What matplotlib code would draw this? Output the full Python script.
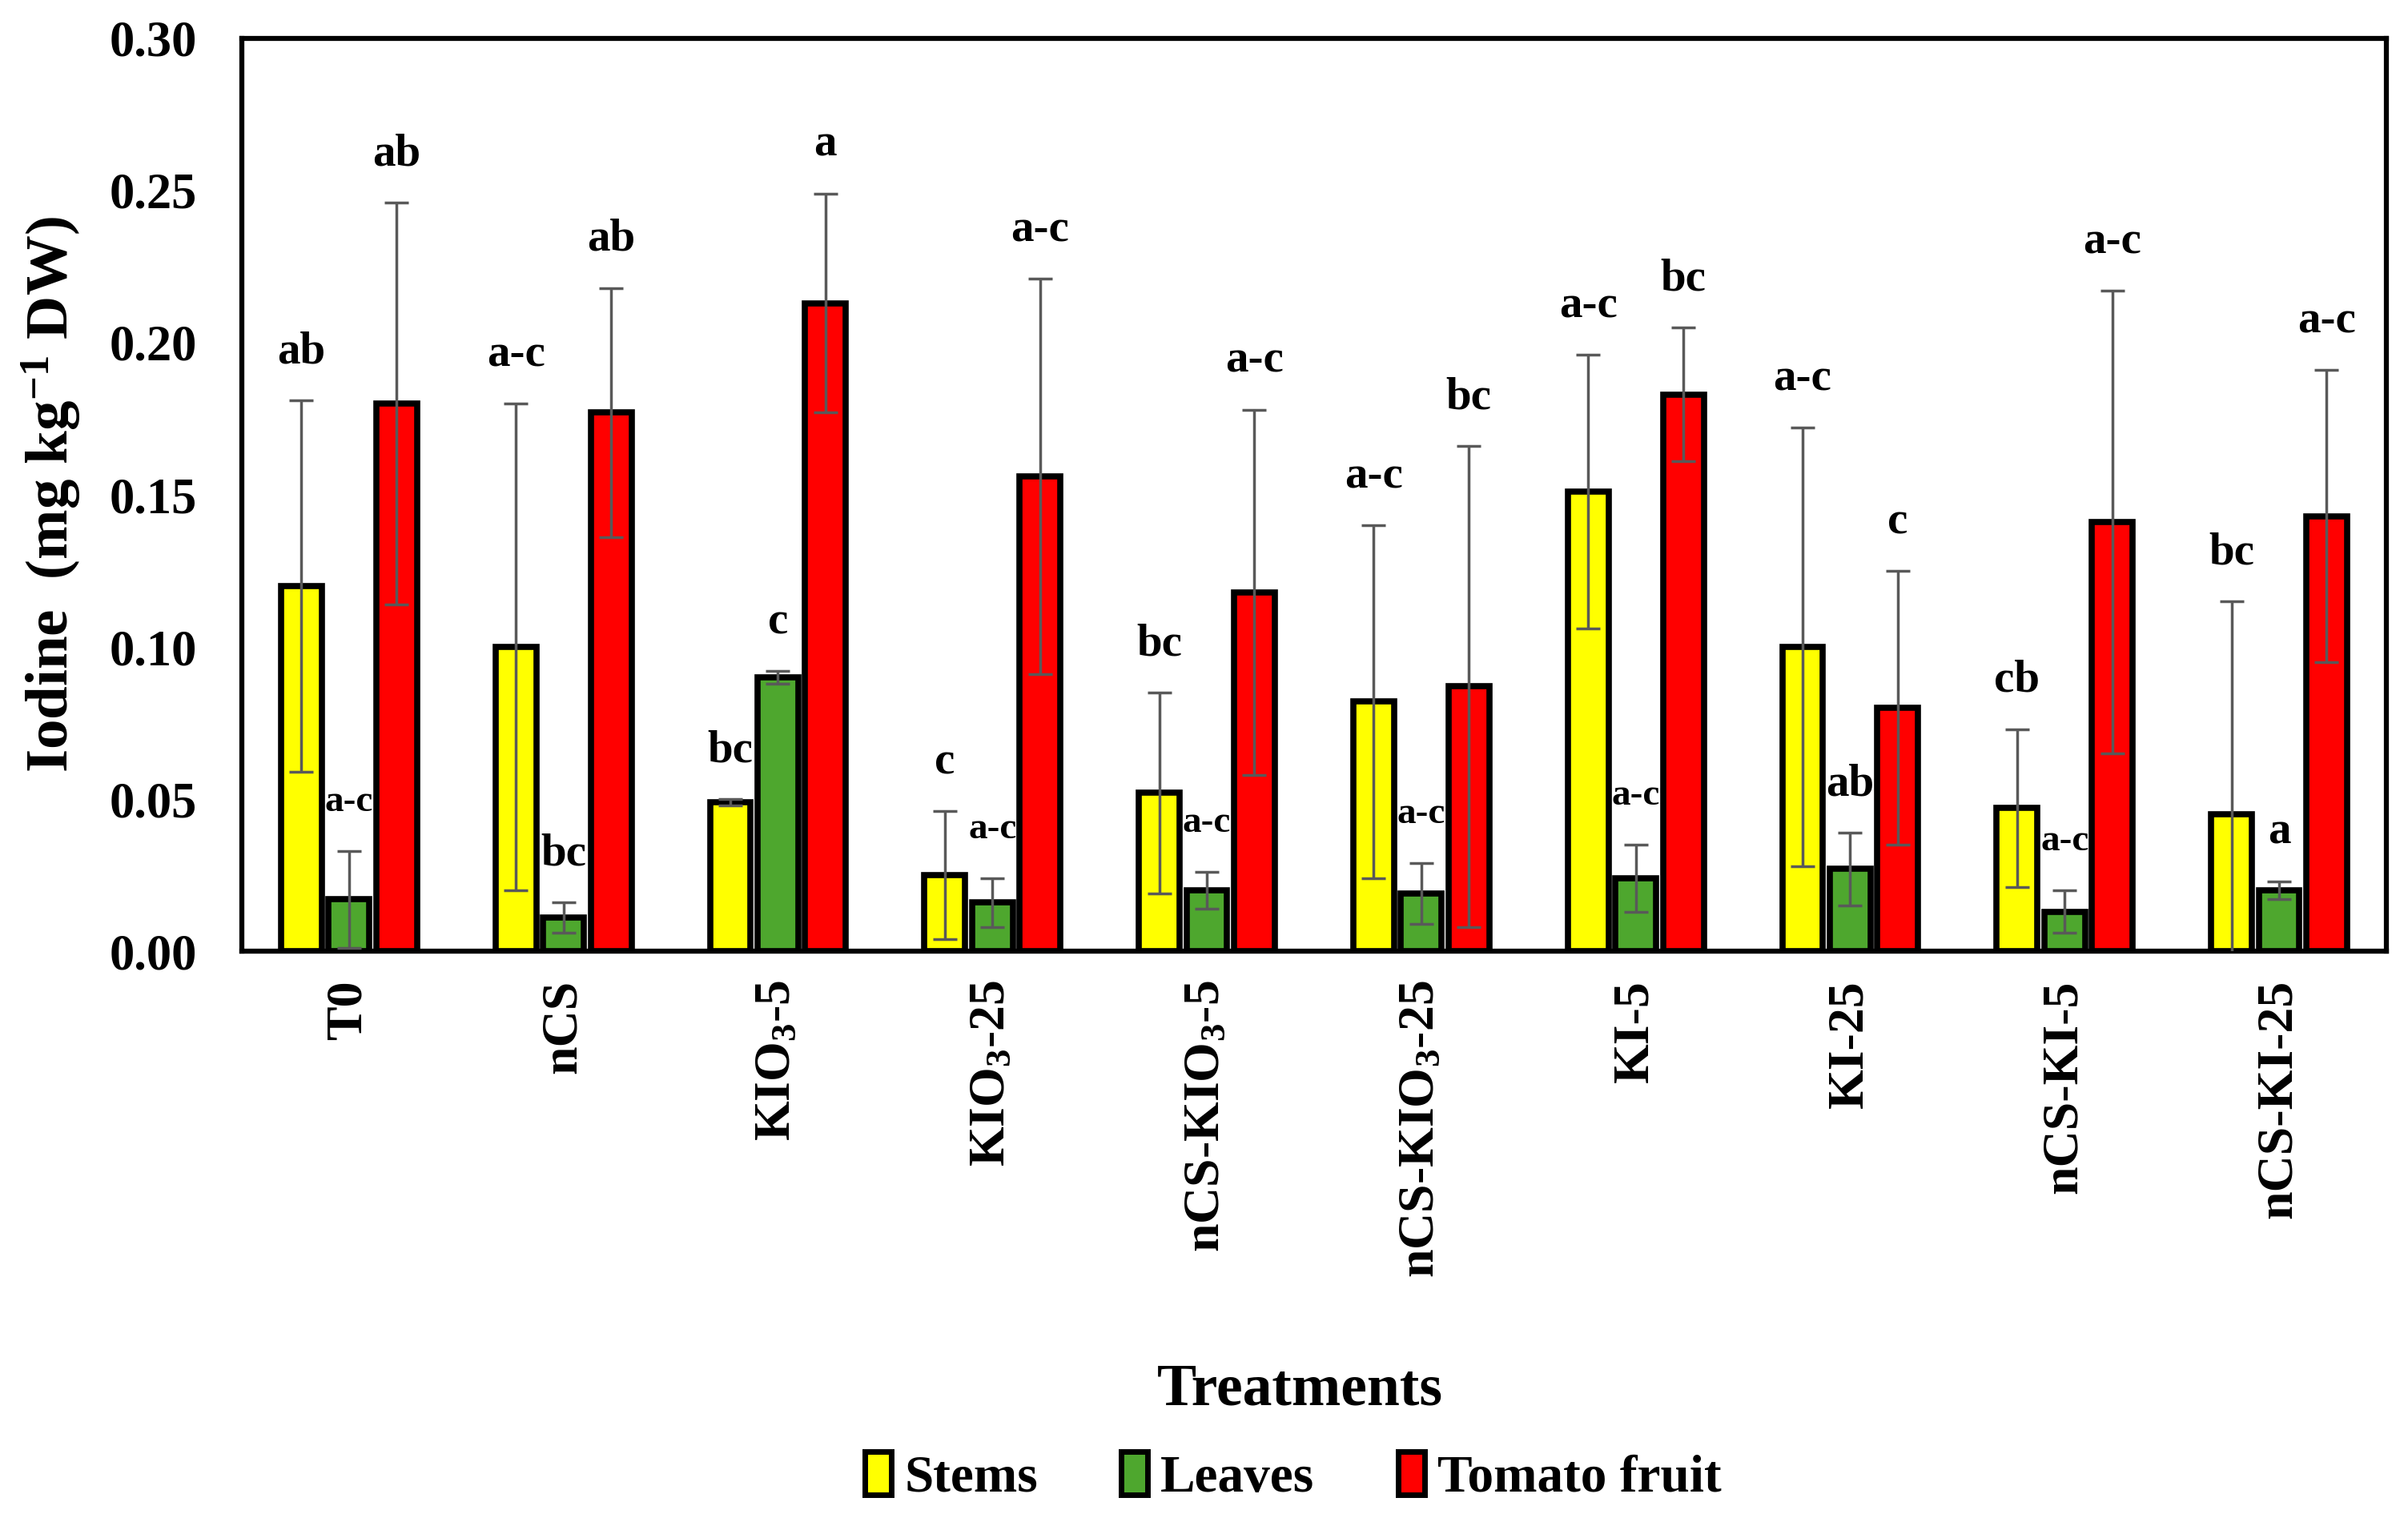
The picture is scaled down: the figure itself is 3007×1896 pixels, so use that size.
import numpy as np
import matplotlib
matplotlib.use("Agg")
from matplotlib import pyplot as plt
from matplotlib.patches import Patch

plt.rcParams['font.family'] = ['Liberation Serif', 'DejaVu Serif']
plt.rcParams['font.weight'] = 'bold'
plt.rcParams['mathtext.fontset'] = 'custom'
plt.rcParams['mathtext.rm'] = 'Liberation Serif:bold'
plt.rcParams['mathtext.it'] = 'Liberation Serif:bold'
plt.rcParams['mathtext.bf'] = 'Liberation Serif:bold'

# data
treatments = ['T0', 'nCS', 'KIO$_3$-5', 'KIO$_3$-25', 'nCS-KIO$_3$-5', 'nCS-KIO$_3$-25',
              'KI-5', 'KI-25', 'nCS-KI-5', 'nCS-KI-25']
stems = [0.120, 0.100, 0.049, 0.025, 0.052, 0.082, 0.151, 0.100, 0.047, 0.045]
stems_err = [0.061, 0.080, 0.001, 0.021, 0.033, 0.058, 0.045, 0.072, 0.026, 0.070]
leaves = [0.017, 0.011, 0.090, 0.016, 0.020, 0.019, 0.024, 0.027, 0.013, 0.020]
leaves_err = [0.016, 0.005, 0.002, 0.008, 0.006, 0.010, 0.011, 0.012, 0.007, 0.003]
fruit = [0.180, 0.177, 0.213, 0.156, 0.118, 0.087, 0.183, 0.080, 0.141, 0.143]
fruit_err = [0.066, 0.041, 0.036, 0.065, 0.060, 0.079, 0.022, 0.045, 0.076, 0.048]

stems_lbl = ['ab', 'a-c', 'bc', 'c', 'bc', 'a-c', 'a-c', 'a-c', 'cb', 'bc']
leaves_lbl = ['a-c', 'bc', 'c', 'a-c', 'a-c', 'a-c', 'a-c', 'ab', 'a-c', 'a']
fruit_lbl = ['ab', 'ab', 'a', 'a-c', 'a-c', 'bc', 'bc', 'c', 'a-c', 'a-c']

series = [('Stems', stems, stems_err, stems_lbl, '#FFFF00'),
          ('Leaves', leaves, leaves_err, leaves_lbl, '#4EA72E'),
          ('Tomato fruit', fruit, fruit_err, fruit_lbl, '#FF0000')]

fig = plt.figure(figsize=(30.07, 18.96), dpi=100)
ax = fig.add_axes([0.1004, 0.3734, 0.8906, 0.6013])

x = np.arange(len(treatments))
width = 0.19
step = 0.222

for i, (name, vals, errs, lbls, col) in enumerate(series):
    pos = x + (i - 1) * step
    ax.bar(pos, vals, width, color=col, edgecolor='black', linewidth=5.5, zorder=2)
    ax.errorbar(pos, vals, yerr=errs, fmt='none', ecolor='#595959', elinewidth=2.5,
                capsize=11, capthick=2.5, zorder=3)
    for p, v, e, t in zip(pos, vals, errs, lbls):
        fs = 34 if (name == 'Leaves' and t == 'a-c') else 41
        ax.text(p, v + e + 0.016, t, ha='center', va='center', fontsize=fs,
                fontweight='bold')

ax.set_xlim(-0.5, len(treatments) - 0.5)
ax.set_ylim(0, 0.30)
ax.set_yticks(np.arange(0, 0.31, 0.05))
ax.set_yticklabels(['%.2f' % v for v in np.arange(0, 0.31, 0.05)])
ax.set_xticks(x)
ax.set_xticklabels(treatments, rotation=90, va='top')
ax.tick_params(axis='y', length=0, labelsize=45, pad=40)
ax.tick_params(axis='x', length=0, labelsize=46, pad=26)
for s in ax.spines.values():
    s.set_linewidth(4.5)

ax.set_ylabel('Iodine  (mg kg$^{-1}$ DW)', fontsize=54, fontweight='bold', labelpad=24)
fig.text(0.540, 0.084, 'Treatments', ha='center', va='center', fontsize=53,
         fontweight='bold')

handles = [Patch(facecolor=c, edgecolor='black', linewidth=5, label=n)
           for n, _, _, _, c in series]
fig.legend(handles=handles, loc='center', bbox_to_anchor=(0.537, 0.027), ncol=3,
           frameon=False, fontsize=47, handlelength=0.5, handleheight=0.9,
           handletextpad=0.25, columnspacing=1.6)

fig.savefig('out.png', dpi=100)
